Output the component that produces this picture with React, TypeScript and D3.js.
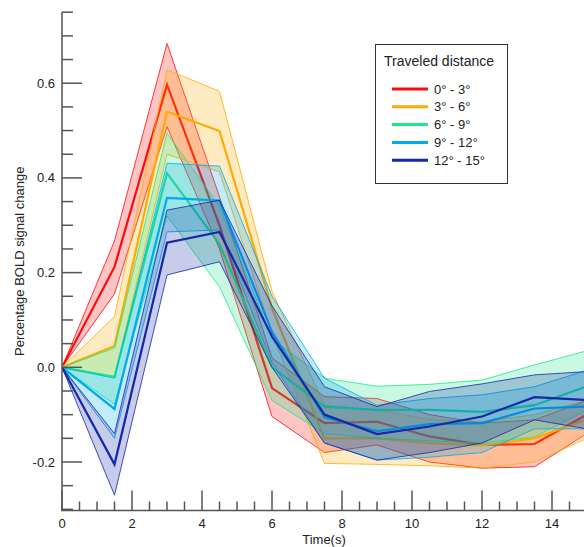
import React from "react";
import * as d3 from "d3";

const time = [0, 1.5, 3, 4.5, 6, 7.5, 9, 10.5, 12, 13.5, 15];
const categories = ["0° - 3°", "3° - 6°", "6° - 9°", "9° - 12°", "12° - 15°"];
const colors = ["#ff0a0a", "#ffaa00", "#1ee887", "#00aaf0", "#1428a8"];

const meanRed = [0, 0.212, 0.597, 0.30, -0.044, -0.118, -0.115, -0.146, -0.164, -0.162, -0.10];
const upperRed = [0, 0.267, 0.684, 0.36, 0.02, -0.062, -0.066, -0.10, -0.118, -0.111, -0.07];
const lowerRed = [0, 0.155, 0.508, 0.25, -0.104, -0.18, -0.164, -0.20, -0.213, -0.21, -0.14];

const meanOrange = [0, 0.045, 0.54, 0.499, 0.125, -0.15, -0.15, -0.16, -0.165, -0.15, -0.11];
const upperOrange = [0, 0.107, 0.628, 0.583, 0.16, -0.08, -0.09, -0.11, -0.115, -0.10, -0.07];
const lowerOrange = [0, -0.02, 0.45, 0.413, 0.07, -0.203, -0.205, -0.208, -0.213, -0.20, -0.15];

const meanGreen = [0, -0.02, 0.41, 0.26, 0.0, -0.083, -0.09, -0.09, -0.094, -0.08, -0.04];
const upperGreen = [0, 0.041, 0.495, 0.34, 0.06, -0.023, -0.04, -0.036, -0.027, 0.005, 0.035];
const lowerGreen = [0, -0.078, 0.32, 0.17, -0.07, -0.14, -0.15, -0.155, -0.16, -0.147, -0.09];

const meanLightBlue = [0, -0.088, 0.358, 0.352, 0.075, -0.105, -0.135, -0.12, -0.118, -0.087, -0.083];
const upperLightBlue = [0, -0.023, 0.431, 0.425, 0.15, -0.023, -0.08, -0.066, -0.058, -0.041, -0.006];
const lowerLightBlue = [0, -0.15, 0.286, 0.29, 0.01, -0.16, -0.196, -0.19, -0.18, -0.13, -0.13];

const meanDarkBlue = [0, -0.205, 0.263, 0.286, 0.065, -0.1, -0.141, -0.125, -0.104, -0.063, -0.069];
const upperDarkBlue = [0, -0.14, 0.332, 0.353, 0.13, -0.041, -0.083, -0.051, -0.035, -0.016, -0.009];
const lowerDarkBlue = [0, -0.27, 0.195, 0.223, 0.0, -0.16, -0.196, -0.18, -0.16, -0.111, -0.13];

const yMajorTicks = [-0.2, 0.0, 0.2, 0.4, 0.6];
const xMajorTicks = [0, 2, 4, 6, 8, 10, 12, 14];

const W = 584;
const H = 547;
const FONT = "'Liberation Sans', Arial, Helvetica, sans-serif";

export default function App() {
  const x = d3.scaleLinear().domain([0, 15]).range([62, 587]);
  const y = d3.scaleLinear().domain([-0.3, 0.75]).range([509.35, 12.2]);

  const series = [
    { mean: meanRed, upper: upperRed, lower: lowerRed },
    { mean: meanOrange, upper: upperOrange, lower: lowerOrange },
    { mean: meanGreen, upper: upperGreen, lower: lowerGreen },
    { mean: meanLightBlue, upper: upperLightBlue, lower: lowerLightBlue },
    { mean: meanDarkBlue, upper: upperDarkBlue, lower: lowerDarkBlue },
  ];

  const line = d3
    .line<number>()
    .x((_, i) => x(time[i]))
    .y((d) => y(d));

  const area = (up: number[], lo: number[]) =>
    d3
      .area<number>()
      .x((_, i) => x(time[i]))
      .y0((_, i) => y(lo[i]))
      .y1((_, i) => y(up[i]))(up) as string;

  const yMinor = d3.range(-0.3, 0.7501, 0.05).map((v) => Math.round(v * 100) / 100);
  const xMinor = d3.range(0, 15.01, 0.5);
  const axisColor = "#555";
  const axisY = 510.5;

  return (
    <div style={{ position: "absolute", left: 0, top: 0 }}>
      <svg width={W} height={H} style={{ display: "block" }}>
        <rect width={W} height={H} fill="#fff" />
        <defs>
          <clipPath id="plotClip">
            <rect x={62} y={0} width={W - 62} height={axisY} />
          </clipPath>
        </defs>
        <g clipPath="url(#plotClip)">
          {series.map((s, k) => (
            <g key={k}>
              <path d={area(s.upper, s.lower)} fill={colors[k]} fillOpacity={0.24} stroke="none" />
              <path d={line(s.upper) as string} fill="none" stroke={colors[k]} strokeWidth={1} strokeOpacity={0.8} />
              <path d={line(s.lower) as string} fill="none" stroke={colors[k]} strokeWidth={1} strokeOpacity={0.8} />
              <path d={line(s.mean) as string} fill="none" stroke={colors[k]} strokeWidth={2.2} strokeLinejoin="miter" />
            </g>
          ))}
        </g>

        {/* Y axis */}
        <line x1={62} x2={62} y1={12} y2={axisY} stroke={axisColor} strokeWidth={1.5} />
        {yMinor.map((v) => {
          const major = yMajorTicks.some((m) => Math.abs(m - v) < 1e-6);
          return (
            <line
              key={"ym" + v}
              x1={62}
              x2={major ? 82 : 73}
              y1={y(v)}
              y2={y(v)}
              stroke={axisColor}
              strokeWidth={1.5}
            />
          );
        })}
        {yMajorTicks.map((v) => (
          <text
            key={"yl" + v}
            x={55}
            y={y(v)}
            dy="0.35em"
            textAnchor="end"
            fontFamily={FONT}
            fontSize={13}
            fill="#222"
          >
            {v.toFixed(1)}
          </text>
        ))}
        <text
          transform={`translate(19,${(12 + axisY) / 2}) rotate(-90)`}
          textAnchor="middle"
          dy="0.35em"
          fontFamily={FONT}
          fontSize={13}
          fill="#222"
        >
          Percentage BOLD signal change
        </text>

        {/* X axis */}
        <line x1={61} x2={W} y1={axisY} y2={axisY} stroke={axisColor} strokeWidth={1.5} />
        {xMinor.map((v) => {
          const major = xMajorTicks.some((m) => Math.abs(m - v) < 1e-6);
          return (
            <line
              key={"xm" + v}
              x1={x(v)}
              x2={x(v)}
              y1={axisY}
              y2={major ? axisY - 20 : axisY - 9}
              stroke={axisColor}
              strokeWidth={1.5}
            />
          );
        })}
        {xMajorTicks.map((v) => (
          <text
            key={"xl" + v}
            x={x(v)}
            y={523}
            dy="0.35em"
            textAnchor="middle"
            fontFamily={FONT}
            fontSize={13}
            fill="#222"
          >
            {v}
          </text>
        ))}
        <text x={324} y={539.5} dy="0.35em" textAnchor="middle" fontFamily={FONT} fontSize={13} fill="#222">
          Time(s)
        </text>

        {/* Legend */}
        <rect x={375.5} y={44.5} width={132} height={139} fill="#fff" stroke="#333" strokeWidth={1} />
        <text x={384} y={66} fontFamily={FONT} fontSize={14} fill="#222">
          Traveled distance
        </text>
        {categories.map((c, i) => {
          const ly = 89 + i * 17.8;
          return (
            <g key={c}>
              <line x1={392} x2={428} y1={ly} y2={ly} stroke={colors[i]} strokeWidth={3} />
              <text x={434} y={ly} dy="0.35em" fontFamily={FONT} fontSize={13} fill="#222">
                {c}
              </text>
            </g>
          );
        })}
      </svg>
    </div>
  );
}
